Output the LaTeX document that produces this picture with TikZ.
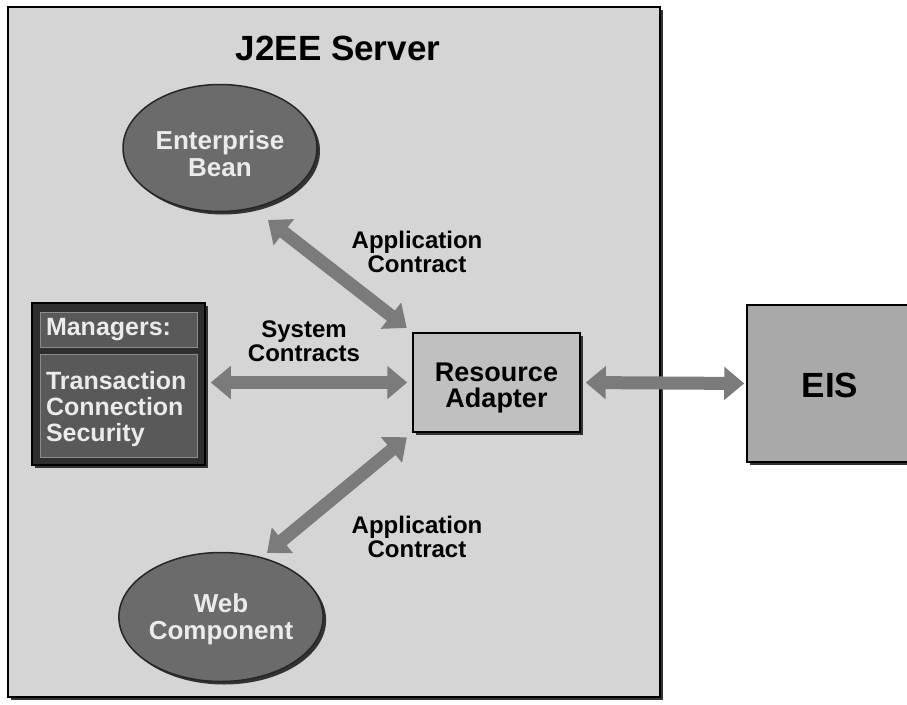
\documentclass[tikz,border=0pt]{standalone}
\usepackage{fontspec}
\setmainfont{Liberation Sans}
\usepackage{xcolor}
\usepackage{tikz}
\usetikzlibrary{shapes.geometric,arrows.meta,shadows}

\definecolor{serverbg}{HTML}{D5D5D5}
\definecolor{beanfill}{HTML}{6B6B6B}
\definecolor{mgrdark}{HTML}{2E2E2E}
\definecolor{mgrpanel}{HTML}{595959}
\definecolor{rafill}{HTML}{C0C0C0}
\definecolor{eisfill}{HTML}{A9A9A9}
\definecolor{arrowgray}{HTML}{7B7B7B}

\begin{document}
\begin{tikzpicture}[x=1pt, y=-1pt,
		shade/.style={drop shadow={shadow xshift=3pt, shadow yshift=-3pt, opacity=1, fill=black!80}},
		comp/.style={draw=black!85, line width=1.5pt, ellipse, fill=beanfill, text=white!92!black, inner sep=0pt,
			minimum width=194pt, minimum height=127pt, align=center, font=\fontsize{26}{27}\selectfont\bfseries, shade},
		box/.style={draw=black, line width=1.5pt, rectangle, align=center, inner sep=0pt, shade},
		panel/.style={draw=black!45, line width=1pt, rectangle, fill=mgrpanel, text=white!92!black, inner sep=0pt,
			minimum width=157pt, text width=145pt, align=left, font=\fontsize{25}{26}\selectfont\bfseries},
		lbl/.style={align=center, font=\fontsize{24}{24}\selectfont\bfseries},
		contract/.style={draw=arrowgray, line width=13pt, {Triangle[width=32pt, length=20pt]}-{Triangle[width=32pt, length=20pt]}}]
			\useasboundingbox (0,0) rectangle (907,704);
			\begin{scope}
				\clip (0,0) rectangle (907,704);
				\node[box, fill=eisfill, minimum width=166pt, minimum height=157pt, text height=28pt, font=\fontsize{35}{35}\selectfont\bfseries] (eis) at (830,383.5) {EIS};
			\end{scope}
			\node[box, fill=serverbg, minimum width=652pt, minimum height=690pt] (server) at (334,352) {};
			\node[font=\fontsize{35}{35}\selectfont\bfseries] (title) at (338,48) {J2EE Server};
			
			\node[comp, text height=57pt] (bean) at (220,148) {Enterprise\\Bean};
			\node[comp, minimum width=192pt, minimum height=129pt, text height=51pt] (web) at (221,617) {Web\\Component};
			
			\node[box, fill=mgrdark, minimum width=173pt, minimum height=162pt] (mgr) at (118.5,384) {};
			\node[panel, minimum height=35pt] (mgrhead) at (118.5,330) {Managers:};
			\node[panel, minimum height=103pt, text height=24pt] (mgrbody) at (118.5,406) {Transaction\\Connection\\Security};
			
			\node[box, fill=rafill, minimum width=167pt, minimum height=99pt, text height=55pt, font=\fontsize{27}{26}\selectfont\bfseries] (ra) at (496.5,382.5) {Resource\\Adapter};
			
			\coordinate (beanend) at (268,220);
			\coordinate (webend) at (267,553);
			
			\draw[contract, shorten >=7pt] (beanend) to (ra.north west);
			\draw[contract, shorten <=7pt] (ra.south west) to (webend);
			\draw[contract, shorten <=5pt, shorten >=5pt] (mgr.east |- ra.west) to (ra.west);
			\draw[contract, shorten <=5pt, shorten >=2pt] (ra.east) to (eis.west);
			
			\node[lbl] (applabel1) at (417,252) {Application\\Contract};
			\node[lbl] (syslabel) at (304,341) {System\\Contracts};
			\node[lbl] (applabel2) at (417,537) {Application\\Contract};

		\end{tikzpicture}
\end{document}
